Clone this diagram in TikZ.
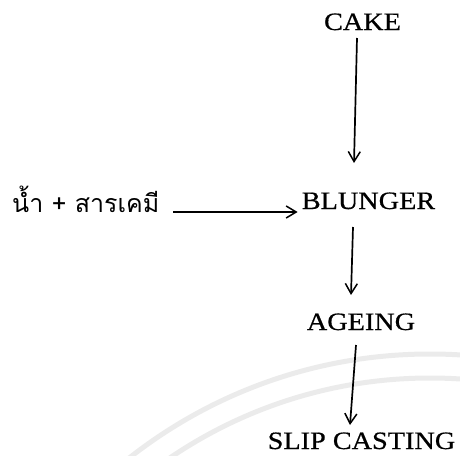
\documentclass[tikz,border=0pt]{standalone}
\usepackage{fontspec}
\setmainfont{Liberation Serif}[FakeStretch=1.13,FakeBold=0.6]
\newfontfamily\thaifont[Script=Thai]{Loma}
\usetikzlibrary{arrows.meta,calc}

\begin{document}
\begin{tikzpicture}[x=1pt,y=-1pt,
    step label/.style={inner sep=0pt, anchor=base, font=\fontsize{25}{30}\selectfont},
    flow/.style={draw=black, line width=1.7pt, -{Straight Barb[length=10pt,width=12pt,line width=1.5pt]}},
    seal/.style={draw=black!8, line width=5pt}]
  \useasboundingbox (0,0) rectangle (460,455);

  % faint seal rings in the background
  \begin{scope}
    \clip (0,0) rectangle (460,455);
    \draw[seal] (430,841) circle (487);
    \draw[seal] (430,841) circle (463);
  \end{scope}

  % process steps
  \node[step label] (cake)    at (362.5,30)  {CAKE};
  \node[step label] (blunger) at (368.5,209) {BLUNGER};
  \node[step label] (ageing)  at (361,330)   {AGEING};
  \node[step label] (slip)    at (361.5,449) {SLIP CASTING};
  \node[inner sep=0pt, anchor=base west, font=\thaifont\fontsize{25}{30}\selectfont]
       (chem) at (12,212) {น้ำ + สารเคมี};

  % connectors
  \draw[flow] ($(cake.base)+(-5.5,8)$) -- ($(blunger.base)+(-14.5,-46)$);
  \draw[flow] ($(chem.base east)+(14,0)$) -- ($(blunger.base west)+(-4,3)$);
  \draw[flow] ($(blunger.base)+(-15.5,18)$) -- ($(ageing.base)+(-10,-35)$);
  \draw[flow] ($(ageing.base)+(-5,15)$) -- ($(slip.base)+(-11.5,-24)$);
\end{tikzpicture}
\end{document}
